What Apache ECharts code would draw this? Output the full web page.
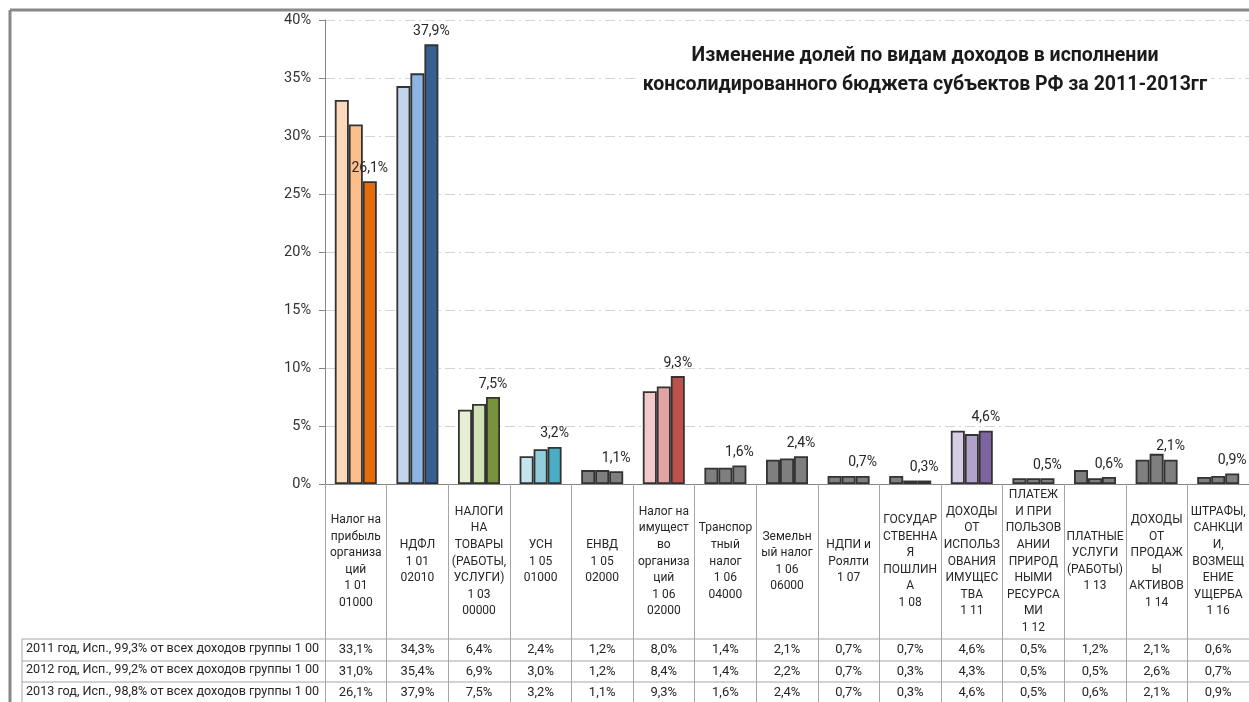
<!DOCTYPE html>
<html>
<head>
<meta charset="utf-8">
<script src="https://cdn.jsdelivr.net/npm/echarts@6/dist/echarts.min.js"></script>
<style>html,body{margin:0;padding:0;background:#fff;}#c{width:1249px;height:702px;}</style>
</head>
<body>
<div id="c"></div>
<script>
const categories = [
  "Налог на\nприбыль\nорганиза\nций\n1 01\n01000",
  "НДФЛ\n1 01\n02010",
  "НАЛОГИ\nНА\nТОВАРЫ\n(РАБОТЫ,\nУСЛУГИ)\n1 03\n00000",
  "УСН\n1 05\n01000",
  "ЕНВД\n1 05\n02000",
  "Налог на\nимущест\nво\nорганиза\nций\n1 06\n02000",
  "Транспор\nтный\nналог\n1 06\n04000",
  "Земельн\nый налог\n1 06\n06000",
  "НДПИ и\nРоялти\n1 07",
  "ГОСУДАР\nСТВЕННА\nЯ\nПОШЛИН\nА\n1 08",
  "ДОХОДЫ\nОТ\nИСПОЛЬЗ\nОВАНИЯ\nИМУЩЕС\nТВА\n1 11",
  "ПЛАТЕЖ\nИ ПРИ\nПОЛЬЗОВ\nАНИИ\nПРИРОД\nНЫМИ\nРЕСУРСА\nМИ\n1 12",
  "ПЛАТНЫЕ\nУСЛУГИ\n(РАБОТЫ)\n1 13",
  "ДОХОДЫ\nОТ\nПРОДАЖ\nЫ\nАКТИВОВ\n1 14",
  "ШТРАФЫ,\nСАНКЦИ\nИ,\nВОЗМЕЩ\nЕНИЕ\nУЩЕРБА\n1 16"
];
const seriesNames = [
  "2011 год, Исп., 99,3% от всех доходов группы 1 00",
  "2012 год, Исп., 99,2% от всех доходов группы 1 00",
  "2013 год, Исп., 98,8% от всех доходов группы 1 00"
];
const values2011 = [33.1, 34.3, 6.4, 2.4, 1.2, 8.0, 1.4, 2.1, 0.7, 0.7, 4.6, 0.5, 1.2, 2.1, 0.6];
const values2012 = [31.0, 35.4, 6.9, 3.0, 1.2, 8.4, 1.4, 2.2, 0.7, 0.3, 4.3, 0.5, 0.5, 2.6, 0.7];
const values2013 = [26.1, 37.9, 7.5, 3.2, 1.1, 9.3, 1.6, 2.4, 0.7, 0.3, 4.6, 0.5, 0.6, 2.1, 0.9];
const yTicks = [0, 5, 10, 15, 20, 25, 30, 35, 40];
const title = "Изменение долей по видам доходов в исполнении\nконсолидированного бюджета субъектов РФ за 2011-2013гг";

// palette per category: [2011, 2012, 2013]
const GRAY = ['#7f7f7f', '#7f7f7f', '#7f7f7f'];
const palette = [
  ['#fcd9bb', '#fbbf8c', '#e46c0a'],
  ['#c3d5ec', '#8eb4e3', '#376092'],
  ['#e6efd6', '#d2e2b6', '#77933c'],
  ['#c4e4ee', '#92cddc', '#4bacc6'],
  GRAY,
  ['#f2c8c8', '#e3a3a2', '#c0504d'],
  GRAY, GRAY, GRAY, GRAY,
  ['#d6cde4', '#b3a2c7', '#8064a2'],
  GRAY, GRAY, GRAY, GRAY
];

const allValues = [values2011, values2012, values2013];
const fmt = v => v.toFixed(1).replace('.', ',') + '%';
const FONT = 'Roboto';
const TXT = '#262626';

const gridTop = 20, gridBottomY = 484, H = 702;
const rowLines = [639, 661, 682];
const rowCenters = [650, 671.5, 693];

const series = allValues.map((vals, s) => ({
  type: 'bar',
  name: seriesNames[s],
  barWidth: 14,
  barGap: '0%',
  data: vals.map((v, i) => ({
    value: v,
    itemStyle: { color: palette[i][s] }
  })),
  itemStyle: { borderColor: '#333', borderWidth: 1.8 },
  label: s === 2 ? {
    show: true, position: 'top', distance: 6,
    formatter: p => fmt(p.value),
    fontFamily: FONT, fontSize: 14, color: TXT
  } : { show: false },
  emphasis: { disabled: true },
  animation: false
}));

const tableAxes = allValues.map((vals, s) => ({
  type: 'category',
  data: categories,
  position: 'bottom',
  offset: rowCenters[s] - gridBottomY,
  axisLine: { show: false },
  axisTick: { show: false },
  axisLabel: {
    interval: 0, margin: 0, verticalAlign: 'middle',
    formatter: (v, idx) => fmt(vals[idx]),
    fontFamily: FONT, fontSize: 13, color: TXT
  }
}));

const graphics = [];
// outer frame
graphics.push({ type: 'line', shape: { x1: 10, y1: 10, x2: 1249, y2: 10 }, style: { stroke: '#888', lineWidth: 3 } });
graphics.push({ type: 'line', shape: { x1: 10, y1: 10, x2: 10, y2: H }, style: { stroke: '#888', lineWidth: 3 } });
// table lines
rowLines.forEach(y => graphics.push({ type: 'line', shape: { x1: 22, y1: y, x2: 1249, y2: y }, style: { stroke: '#a6a6a6', lineWidth: 1 } }));
graphics.push({ type: 'line', shape: { x1: 22, y1: rowLines[0], x2: 22, y2: H }, style: { stroke: '#a6a6a6', lineWidth: 1 } });
seriesNames.forEach((n, s) => graphics.push({
  type: 'text', left: 26, top: rowCenters[s] - 8,
  style: { text: n, fontFamily: FONT, fontSize: 12.6, fill: TXT }
}));

const chart = echarts.init(document.getElementById('c'), null, { renderer: 'canvas' });
chart.setOption({
  backgroundColor: '#fff',
  animation: false,
  title: {
    text: title, left: 921, top: 40, textAlign: 'center',
    padding: [2, 4], backgroundColor: '#fff',
    textStyle: { fontFamily: FONT, fontWeight: 'bold', fontSize: 19.5, lineHeight: 29, color: '#1a1a1a' }
  },
  grid: { left: 325, right: 0, top: gridTop, bottom: H - gridBottomY, containLabel: false },
  xAxis: [{
    type: 'category',
    data: categories,
    axisLine: { show: true, lineStyle: { color: '#868686', width: 1 } },
    axisTick: { show: true, length: H - gridBottomY, lineStyle: { color: '#a6a6a6' } },
    axisLabel: {
      interval: 0, margin: 77.5, verticalAlign: 'middle', align: 'center',
      fontFamily: FONT, fontSize: 12, lineHeight: 16.6, color: TXT
    }
  }].concat(tableAxes),
  yAxis: {
    type: 'value',
    min: yTicks[0], max: yTicks[yTicks.length - 1], interval: 5,
    axisLine: { show: true, lineStyle: { color: '#868686' } },
    axisTick: { show: true, length: 6, lineStyle: { color: '#868686' } },
    axisLabel: { formatter: '{value}%', margin: 14, fontFamily: FONT, fontSize: 14.5, color: '#333' },
    splitLine: { show: true, lineStyle: { color: '#d4d4d4', type: [10, 4, 2, 4], width: 1 } }
  },
  series: series,
  graphic: graphics
});
</script>
</body>
</html>
